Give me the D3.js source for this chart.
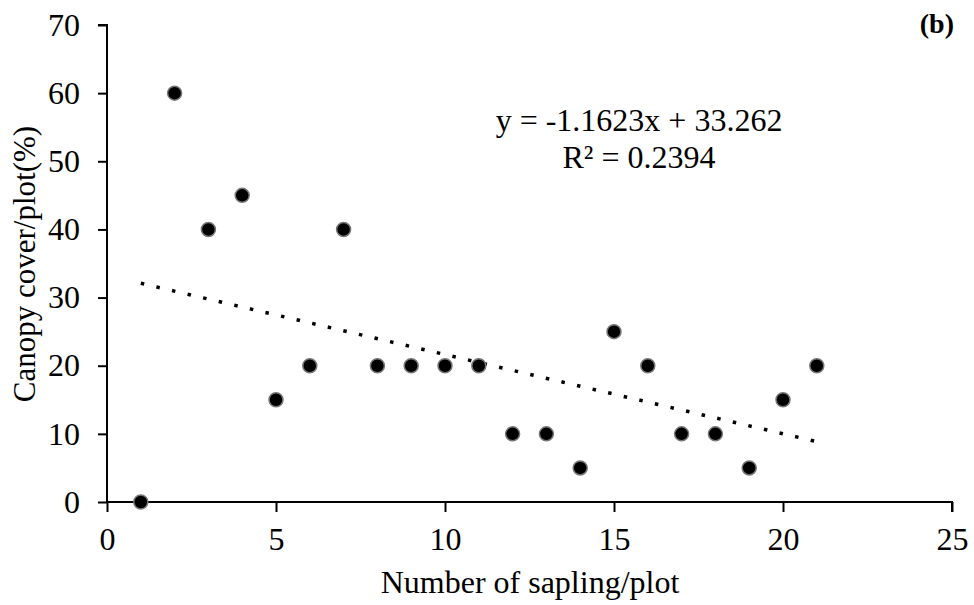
<!DOCTYPE html>
<html><head><meta charset="utf-8">
<script src="https://cdn.jsdelivr.net/npm/d3@7"></script>
<style>body{margin:0;background:#fff}svg{display:block}text{font-family:"Liberation Serif","Times New Roman",serif;fill:#000}</style>
</head><body><svg id="c" width="974" height="605"></svg>
<script>
const xVals = [1,2,3,4,5,6,7,8,9,10,11,12,13,14,15,16,17,18,19,20,21];
const yVals = [0,60,40,45,15,20,40,20,20,20,20,10,10,5,25,20,10,10,5,15,20];
const xTicks = [0,5,10,15,20,25];
const yTicks = [0,10,20,30,40,50,60,70];
const slope = -1.1623, intercept = 33.262;
const trendX = [1,21];
const eqText = "y = -1.1623x + 33.262";
const r2Text = "R² = 0.2394";

const FS = "32px";
const svg = d3.select("#c");
const x = d3.scaleLinear().domain([0,25]).range([107,952]);
const y = d3.scaleLinear().domain([0,70]).range([502,25]);

const xa = svg.append("g").attr("transform","translate(0,502)")
  .call(d3.axisBottom(x).tickValues(xTicks).tickSize(10).tickPadding(15).tickFormat(d3.format("d")));
const ya = svg.append("g").attr("transform","translate(107,0)")
  .call(d3.axisLeft(y).tickValues(yTicks).tickSize(9).tickPadding(18).tickFormat(d3.format("d")));
[xa,ya].forEach(a=>{
  a.selectAll("path,line").attr("stroke","#000").attr("stroke-width",2);
  a.selectAll("text").style("font-family","'Liberation Serif',serif").style("font-size",FS).attr("fill","#000");
});
ya.select(".domain").attr("d","M-9,25H0V502");
xa.select(".domain").attr("d","M107,0H952V10");

// trendline
svg.append("line")
  .attr("x1",x(trendX[0])).attr("y1",y(slope*trendX[0]+intercept))
  .attr("x2",x(trendX[1])).attr("y2",y(slope*trendX[1]+intercept))
  .attr("stroke","#000").attr("stroke-width",3.5).attr("stroke-dasharray","3.5,12.5");

svg.append("g").selectAll("circle").data(xVals.map((d,i)=>[d,yVals[i]])).join("circle")
  .attr("cx",d=>x(d[0])).attr("cy",d=>y(d[1])).attr("r",7)
  .attr("fill","#000").attr("stroke","#777").attr("stroke-width",1.5);

svg.append("text").attr("x",639).attr("y",131).attr("text-anchor","middle").style("font-size",FS).text(eqText);
svg.append("text").attr("x",639).attr("y",168).attr("text-anchor","middle").style("font-size",FS).text(r2Text);
svg.append("text").attr("x",954).attr("y",33).attr("text-anchor","end").style("font-size","28px").style("font-weight","bold").text("(b)");
svg.append("text").attr("x",530).attr("y",593).attr("text-anchor","middle").style("font-size",FS).text("Number of sapling/plot");
svg.append("text").attr("transform","translate(35,264) rotate(-90)").attr("text-anchor","middle").style("font-size","31px").text("Canopy cover/plot(%)");
</script></body></html>
